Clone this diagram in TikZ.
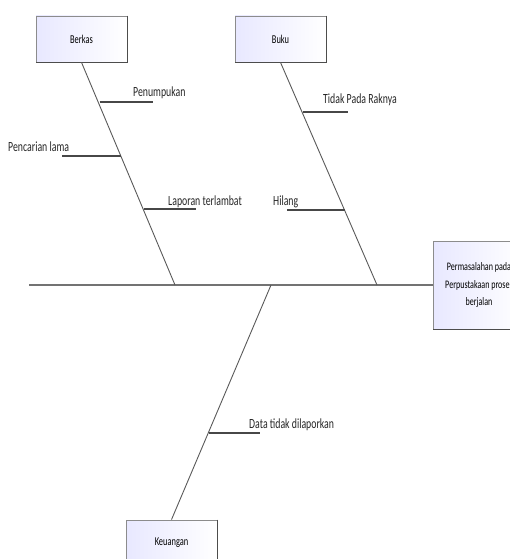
\documentclass[tikz,border=0pt]{standalone}
\usepackage{fontspec}
\setmainfont{Carlito}[FakeStretch=0.7]
\begin{document}
\begin{tikzpicture}[x=1pt,y=-1pt,
  cat/.style={minimum width=91pt, minimum height=46pt, inner sep=0pt,
    left color=blue!9, right color=white, draw=black!45, line width=0.8pt,
    font=\fontsize{12}{14}\selectfont},
  bone/.style={draw=black!65, line width=0.9pt},
  rib/.style={draw=black!72, line width=1.8pt},
  spine/.style={draw=black!55, line width=2.2pt},
  lbl/.style={anchor=base west, inner sep=0pt, font=\fontsize{14}{16}\selectfont, text=black!85}]
\useasboundingbox (0,0) rectangle (510,559);
\clip (0,0) rectangle (510,559);
% category boxes
\node[cat] (berkas) at (81.5,39) {Berkas};
\node[cat] (buku) at (280.5,39) {Buku};
\node[cat] (keu) at (171.5,543) {Keuangan};
\node[cat, minimum width=92pt, minimum height=88pt, align=center,
  font=\fontsize{11.5}{17.5}\selectfont] (eff) at (479,285)
  {Permasalahan pada\\Perpustakaan proses\\berjalan};
\foreach \b in {berkas,buku,keu,eff}
  \draw[black!70, line width=1.4pt] (\b.north east) -- (\b.south east) -- (\b.south west);
% spine
\coordinate (tail) at (29,285);
\draw[spine] (tail) -- (eff.west);
% bone joints on spine
\coordinate (j1) at (175,285);
\coordinate (j2) at (377,285);
\coordinate (j3) at (271,285);
\draw[bone] (berkas.south) -- (j1);
\draw[bone] (buku.south) -- (j2);
\draw[bone] (j3) -- (keu.north);
% ribs
\coordinate (r1a) at (99.5,102);  \coordinate (r1b) at (153,102);
\coordinate (r2a) at (121,156);   \coordinate (r2b) at (62,156);
\coordinate (r3a) at (143.5,209); \coordinate (r3b) at (196,209);
\coordinate (r4a) at (302.5,112); \coordinate (r4b) at (348,112);
\coordinate (r5a) at (344.5,210); \coordinate (r5b) at (287,210);
\coordinate (r6a) at (208.7,433); \coordinate (r6b) at (260,433);
\foreach \r in {1,...,6} \draw[rib] (r\r a) -- (r\r b);
% labels
\node[lbl] (t1) at (133,97) {Penumpukan};
\node[lbl] (t2) at (8,151) {Pencarian lama};
\node[lbl] (t3) at (168,205) {Laporan terlambat};
\node[lbl] (t4) at (323,103) {Tidak Pada Raknya};
\node[lbl] (t5) at (273,205) {Hilang};
\node[lbl] (t6) at (249,428) {Data tidak dilaporkan};
\end{tikzpicture}
\end{document}
